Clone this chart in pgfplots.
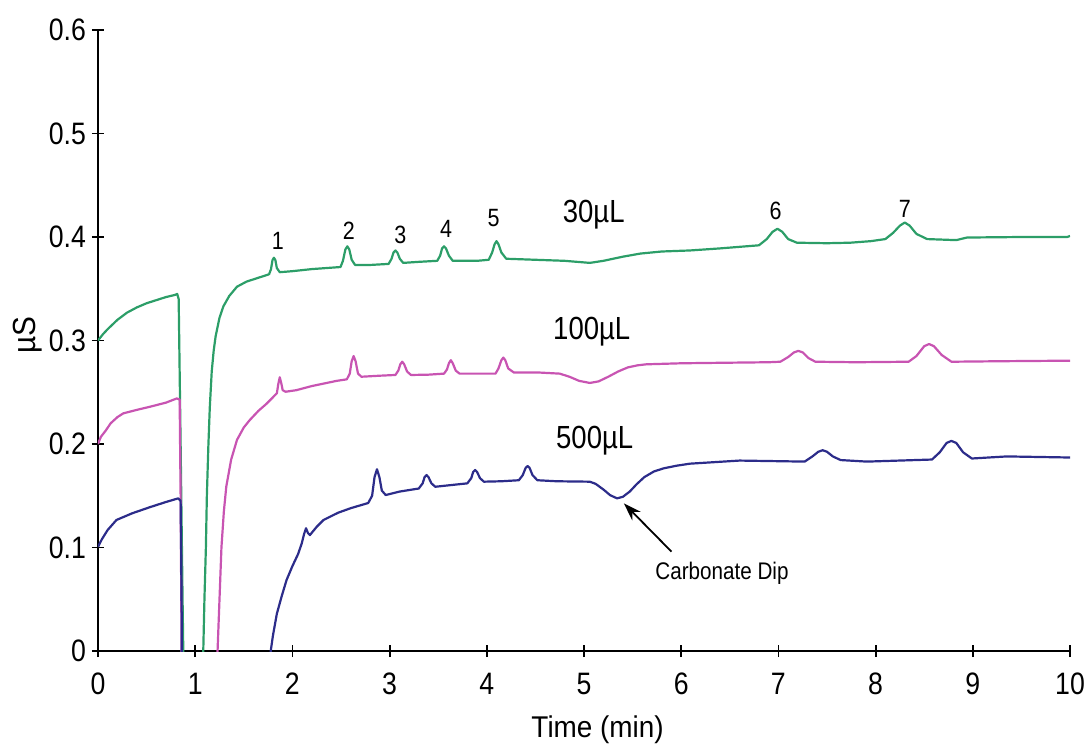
\documentclass[border=0pt]{standalone}
\usepackage{pgfplots}
\pgfplotsset{compat=1.18}
\usepackage{fontspec}
\setmainfont{Liberation Sans}[FakeStretch=0.86]
\newfontfamily\labelfont{Liberation Sans}[FakeStretch=0.93]
\usetikzlibrary{arrows.meta}

\definecolor{trgreen}{RGB}{44,158,104}
\definecolor{trpink}{RGB}{200,84,178}
\definecolor{trnavy}{RGB}{44,44,138}

\begin{document}
\begin{tikzpicture}
\begin{axis}[
  at={(0,0)}, anchor=south west,
  scale only axis,
  width=486pt, height=310.5pt,
  xmin=0, xmax=10, ymin=0, ymax=0.6,
  axis lines=left,
  axis line style={line width=0.9pt, -},
  xtick={0,1,...,10},
  ytick={0,0.1,...,0.6},
  yticklabels={0,0.1,0.2,0.3,0.4,0.5,0.6},
  tick align=center,
  major tick length=6pt,
  tick style={line width=0.9pt, black},
  /pgf/number format/assume math mode=true,
  ticklabel style={font=\fontsize{15.5}{17}\selectfont},
  xticklabel style={yshift=-4.5pt},
  yticklabel style={xshift=0.5pt},
  xlabel={Time (min)},
  ylabel={µS},
  xlabel style={font=\labelfont\fontsize{15}{17}\selectfont,
                at={(axis description cs:0.514,-0.127)}, anchor=center},
  ylabel style={font=\labelfont\fontsize{16}{18}\selectfont,
                at={(axis description cs:-0.0725,0.509)}, anchor=center, rotate=0},
  clip=true,
  every axis plot/.append style={line width=1.1pt, line join=round},
]
% 30 uL injection
\addplot[trgreen] coordinates {
(0,0.300) (0.05,0.306) (0.1,0.311) (0.2,0.320) (0.3,0.327) (0.4,0.332)
(0.5,0.336) (0.6,0.339) (0.7,0.342) (0.79,0.344) (0.815,0.345) (0.83,0.34)
(0.85,0.2) (0.87,0.05) (0.885,-0.05) (1.075,-0.05)
(1.083,0) (1.095,0.05) (1.11,0.10) (1.12,0.15) (1.135,0.197) (1.15,0.235)
(1.17,0.27) (1.19,0.29) (1.21,0.304) (1.25,0.322) (1.29,0.333) (1.35,0.343)
(1.43,0.352) (1.53,0.357) (1.63,0.360) (1.76,0.364)
(1.78,0.369) (1.795,0.3776) (1.81,0.380) (1.825,0.3776) (1.84,0.370) (1.87,0.366)
(2.0,0.367) (2.2,0.369) (2.495,0.371)
(2.52,0.377) (2.545,0.388) (2.565,0.391) (2.585,0.388) (2.61,0.378) (2.645,0.373)
(2.8,0.373) (2.99,0.374)
(3.02,0.379) (3.04,0.385) (3.06,0.387) (3.08,0.385) (3.105,0.379) (3.14,0.375)
(3.3,0.376) (3.49,0.377)
(3.52,0.382) (3.54,0.389) (3.56,0.391) (3.58,0.389) (3.61,0.382) (3.65,0.377)
(3.9,0.377) (4.02,0.378)
(4.055,0.385) (4.08,0.393) (4.10,0.396) (4.12,0.393) (4.15,0.385) (4.20,0.379)
(4.5,0.378) (4.8,0.377) (5.06,0.375) (5.2,0.377) (5.4,0.381)
(5.58,0.384) (5.8,0.386) (6.09,0.387) (6.4,0.389) (6.80,0.392)
(6.88,0.398) (6.94,0.405) (6.99,0.408) (7.04,0.405) (7.10,0.398) (7.19,0.3945)
(7.5,0.394) (7.74,0.3945) (7.95,0.396) (8.10,0.398)
(8.18,0.404) (8.25,0.411) (8.30,0.414) (8.35,0.411) (8.42,0.403) (8.53,0.398)
(8.83,0.397) (8.94,0.3995) (9.5,0.400) (9.97,0.400) (10,0.401)
};
% 100 uL injection
\addplot[trpink] coordinates {
(0,0.200) (0.03,0.207) (0.08,0.213) (0.13,0.220) (0.2,0.226) (0.26,0.2296)
(0.4,0.233) (0.535,0.236) (0.7,0.240) (0.81,0.244) (0.84,0.243) (0.85,0.15)
(0.86,0.0) (0.865,-0.05) (1.22,-0.05)
(1.23,0) (1.25,0.05) (1.27,0.10) (1.295,0.135) (1.32,0.159) (1.37,0.185)
(1.43,0.204) (1.50,0.216) (1.56,0.223) (1.65,0.232) (1.735,0.239) (1.84,0.249)
(1.855,0.258) (1.87,0.2645) (1.885,0.259) (1.90,0.252) (1.93,0.2505)
(2.04,0.252) (2.2,0.256) (2.455,0.261) (2.56,0.2625)
(2.59,0.268) (2.61,0.280) (2.63,0.285) (2.65,0.280) (2.675,0.268) (2.71,0.265)
(2.9,0.266) (3.06,0.2667)
(3.09,0.271) (3.11,0.277) (3.13,0.2795) (3.15,0.277) (3.18,0.270) (3.22,0.2667)
(3.4,0.267) (3.56,0.268)
(3.59,0.272) (3.61,0.278) (3.63,0.281) (3.65,0.278) (3.68,0.271) (3.72,0.268)
(3.9,0.268) (4.09,0.268)
(4.12,0.273) (4.15,0.281) (4.17,0.2835) (4.19,0.281) (4.22,0.273) (4.28,0.269)
(4.55,0.269) (4.75,0.268) (4.85,0.265) (4.95,0.261) (5.06,0.259) (5.15,0.2605)
(5.25,0.265) (5.35,0.270) (5.45,0.274) (5.55,0.276) (5.64,0.277)
(6.0,0.278) (6.43,0.2785) (6.9,0.279) (7.02,0.2795)
(7.10,0.284) (7.16,0.2885) (7.205,0.290) (7.25,0.2885) (7.31,0.283) (7.38,0.2795)
(7.8,0.279) (8.34,0.2795)
(8.42,0.285) (8.50,0.2945) (8.55,0.2966) (8.60,0.2945) (8.68,0.286) (8.78,0.2795)
(9.3,0.280) (9.97,0.2805) (10,0.2805)
};
% 500 uL injection
\addplot[trnavy] coordinates {
(0,0.1007) (0.04,0.108) (0.1,0.117) (0.19,0.1266) (0.35,0.133) (0.535,0.139)
(0.7,0.144) (0.826,0.1475) (0.85,0.145) (0.86,0.05) (0.865,-0.05) (1.77,-0.05)
(1.777,0) (1.80,0.015) (1.84,0.036) (1.89,0.053) (1.94,0.0686) (2.00,0.082)
(2.06,0.094) (2.096,0.104) (2.12,0.113) (2.14,0.1186) (2.16,0.114) (2.18,0.112)
(2.25,0.120) (2.32,0.1266) (2.47,0.1336) (2.6,0.138) (2.78,0.143)
(2.82,0.150) (2.845,0.168) (2.87,0.1756) (2.895,0.168) (2.92,0.155) (2.96,0.1507)
(3.1,0.154) (3.30,0.157)
(3.34,0.162) (3.36,0.168) (3.38,0.170) (3.40,0.168) (3.43,0.162) (3.47,0.1587)
(3.6,0.160) (3.80,0.162)
(3.84,0.167) (3.86,0.173) (3.88,0.1749) (3.90,0.173) (3.93,0.167) (3.97,0.1636)
(4.15,0.164) (4.33,0.165)
(4.37,0.170) (4.40,0.177) (4.42,0.1787) (4.44,0.177) (4.47,0.170) (4.52,0.165)
(4.72,0.164) (5.06,0.1636) (5.12,0.1615) (5.20,0.156) (5.27,0.1505) (5.34,0.1475)
(5.40,0.149) (5.47,0.154) (5.54,0.161) (5.62,0.168) (5.72,0.1735) (5.82,0.1765)
(5.95,0.179) (6.09,0.181) (6.60,0.184) (7.27,0.183)
(7.35,0.188) (7.41,0.1925) (7.455,0.194) (7.50,0.1925) (7.56,0.188) (7.64,0.1845)
(7.91,0.183) (8.58,0.185)
(8.66,0.192) (8.73,0.201) (8.78,0.203) (8.83,0.201) (8.90,0.192) (8.99,0.186)
(9.35,0.188) (9.97,0.187) (10,0.187)
};
% trace labels
\node[font=\fontsize{16}{18}\selectfont] at (axis cs:5.10,0.422) {30µL};
\node[font=\fontsize{16}{18}\selectfont] at (axis cs:5.08,0.309) {100µL};
\node[font=\fontsize{16}{18}\selectfont] at (axis cs:5.11,0.203) {500µL};
% peak numbers
\node[font=\fontsize{12.5}{14}\selectfont] at (axis cs:1.85,0.396) {1};
\node[font=\fontsize{12.5}{14}\selectfont] at (axis cs:2.58,0.406) {2};
\node[font=\fontsize{12.5}{14}\selectfont] at (axis cs:3.11,0.402) {3};
\node[font=\fontsize{12.5}{14}\selectfont] at (axis cs:3.58,0.408) {4};
\node[font=\fontsize{12.5}{14}\selectfont] at (axis cs:4.07,0.418) {5};
\node[font=\fontsize{12.5}{14}\selectfont] at (axis cs:6.97,0.425) {6};
\node[font=\fontsize{12.5}{14}\selectfont] at (axis cs:8.30,0.427) {7};
% carbonate annotation
\draw[-{Stealth[length=9pt,width=6pt]}, line width=0.9pt]
  (axis cs:5.90,0.096) -- (axis cs:5.41,0.1427);
\node[font=\fontsize{12}{14}\selectfont] at (axis cs:6.42,0.075) {Carbonate Dip};
\end{axis}
\pgfresetboundingbox
\useasboundingbox (-49pt,-47pt) rectangle (493.5pt,325.5pt);
\end{tikzpicture}
\end{document}
